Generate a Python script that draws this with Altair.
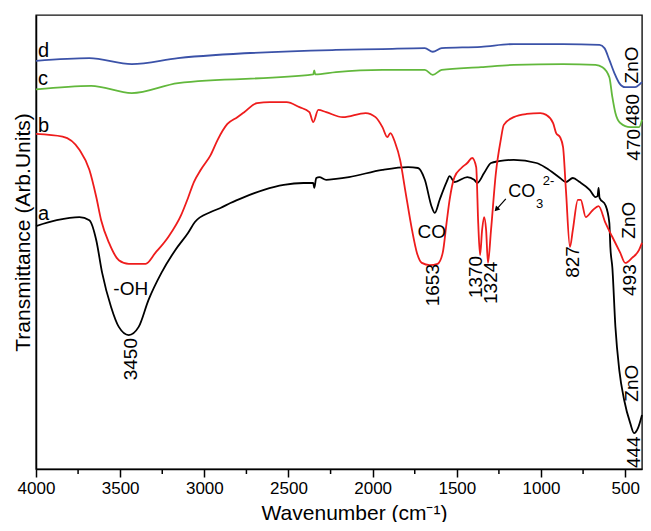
import altair as alt
import pandas as pd

# ---- spectra (wavenumber in cm-1, transmittance in arbitrary units) ----
a_wn = [4000, 3877, 3742, 3683, 3642, 3607, 3554, 3508, 3449, 3390, 3332, 3255, 3173, 3097, 3056,
        2962, 2904, 2845, 2763, 2646, 2528, 2411, 2353, 2347, 2335, 2317, 2276, 2218, 2141, 1942,
        1790, 1731, 1690, 1649, 1631, 1602, 1561, 1543, 1514, 1438, 1397, 1379, 1338, 1297, 1250,
        1162, 1027, 969, 887, 852, 811, 770, 711, 676, 664, 658, 652, 617, 594, 588, 576, 558,
        535, 506, 470, 447, 424, 400]
a_T = [53.5, 54.8, 55.5, 54.8, 50.4, 43.2, 35.7, 31.3, 29.5, 31.3, 37.2, 43.2, 48.2, 52.0, 54.4,
       56.6, 57.5, 58.6, 59.9, 61.5, 62.6, 63.0, 63.0, 61.9, 64.1, 64.3, 63.7, 63.9, 64.3, 65.9,
       66.5, 66.3, 63.7, 57.7, 56.4, 59.3, 63.2, 64.5, 63.2, 64.3, 63.7, 63.0, 65.2, 67.4, 67.8,
       68.1, 67.4, 66.3, 64.1, 63.2, 64.1, 63.2, 61.5, 59.9, 60.1, 61.9, 59.7, 58.1, 54.2, 48.9,
       44.3, 31.3, 21.8, 15.2, 10.1, 7.9, 9.0, 11.9]

b_wn = [4000, 3842, 3742, 3683, 3642, 3613, 3566, 3508, 3449, 3349, 3291, 3214, 3138, 3097, 3062,
        3021, 2962, 2921, 2863, 2804, 2763, 2687, 2610, 2511, 2435, 2376, 2353, 2323, 2276, 2177,
        2042, 1983, 1942, 1913, 1895, 1866, 1837, 1807, 1766, 1737, 1708, 1661, 1614, 1584, 1561,
        1543, 1514, 1473, 1438, 1409, 1385, 1373, 1362, 1350, 1338, 1326, 1315, 1297, 1268, 1239,
        1221, 1162, 1086, 1004, 969, 928, 910, 887, 869, 852, 828, 811, 781, 764, 734, 693, 658,
        617, 576, 529, 500, 459, 418, 400]
b_T = [73.8, 73.2, 70.3, 65.9, 59.9, 54.8, 49.8, 46.0, 45.2, 45.2, 47.6, 51.1, 55.9, 59.7, 63.2,
       65.9, 69.2, 72.5, 76.0, 77.5, 78.6, 80.6, 80.8, 80.8, 79.7, 78.6, 76.4, 79.1, 78.6, 77.5,
       78.4, 77.5, 75.3, 73.1, 74.0, 71.8, 68.1, 61.5, 52.6, 47.6, 45.4, 44.9, 45.2, 47.6, 54.2,
       59.3, 64.3, 66.3, 67.4, 68.5, 66.5, 54.2, 47.1, 52.6, 55.5, 52.6, 45.4, 52.6, 65.2, 72.5,
       75.8, 77.5, 78.2, 78.4, 78.0, 76.2, 74.0, 73.1, 70.9, 61.5, 48.9, 52.6, 59.3, 59.3, 55.5,
       57.0, 57.9, 54.2, 51.1, 47.6, 45.4, 46.5, 48.2, 49.8]

c_wn = [4000, 3672, 3431, 3156, 2353, 2347, 2341, 2218, 1942, 1690, 1643, 1590, 1356, 1162, 869,
        676, 635, 594, 576, 558, 529, 470, 418, 400]
c_T = [83.6, 84.4, 82.8, 85.0, 86.9, 87.8, 86.9, 87.4, 87.9, 87.9, 86.8, 87.9, 88.5, 89.0, 89.2,
       89.0, 88.5, 86.3, 81.9, 78.4, 76.2, 75.3, 75.3, 76.9]

d_wn = [4000, 3683, 3431, 3156, 2218, 1942, 1690, 1643, 1590, 1356, 1162, 869, 652, 623, 594,
        564, 535, 500, 441, 412, 400]
d_T = [89.9, 90.5, 89.2, 90.5, 92.3, 92.5, 92.7, 91.9, 92.7, 93.0, 93.6, 93.6, 93.4, 92.7, 90.1,
       87.2, 85.0, 84.1, 84.1, 84.8, 85.2]

series_names = ["a", "b", "c", "d"]
series_colors = ["#000000", "#ee1c1c", "#62b83c", "#3b52a8"]

# ---- axis ticks ----
major_ticks = [4000, 3500, 3000, 2500, 2000, 1500, 1000, 500]
minor_ticks = [3750, 3250, 2750, 2250, 1750, 1250, 750]

# ---- annotations ----
rot_labels = ["3450", "1653", "1370", "1324", "827", "493", "444", "ZnO", "ZnO", "470", "480", "ZnO"]
rot_wn = [3437, 1643, 1385, 1297, 811, 470, 447, 459, 476, 447, 453, 459]
rot_T = [24.2, 40.5, 42.3, 41.0, 45.6, 41.6, 3.7, 18.9, 54.8, 71.4, 79.1, 89.0]

mid_labels = ["-OH", "CO"]
mid_wn = [3437, 1649]
mid_T = [39.6, 52.2]

letter_labels = ["d", "c", "b", "a"]
letter_wn = [3988, 3988, 3988, 3988]
letter_T = [90.7, 84.6, 74.2, 54.8]

carb_main = ["CO"]
carb_wn = [1195]
carb_T = [61.0]
carb_sub = ["3"]
carb_sub_wn = [1030]
carb_sub_T = [58.4]
carb_sup = ["2-"]
carb_sup_wn = [990]
carb_sup_T = [63.4]

arrow_wn = [1209]
arrow_T = [59.5]
arrow_wn2 = [1262]
arrow_T2 = [57.3]
head_wn = [1265]
head_T = [57.2]

FONT = "Liberation Sans"

frames = []
for name, wn, T in zip(series_names, [a_wn, b_wn, c_wn, d_wn], [a_T, b_T, c_T, d_T]):
    frames.append(pd.DataFrame({"wn": wn, "T": T, "series": name}))
curves = pd.concat(frames, ignore_index=True)

xscale = alt.Scale(domain=[400, 4000], reverse=True, nice=False, zero=False)
yscale = alt.Scale(domain=[0, 100], nice=False, zero=False)

x_axis = alt.Axis(values=major_ticks, format="d", title="Wavenumber (cm⁻¹)",
                  tickSize=8, labelPadding=3, labelFlush=False, grid=False,
                  titlePadding=6, titleX=318)
y_axis = alt.Axis(ticks=False, labels=False, grid=False,
                  title="Transmittance (Arb.Units)", titlePadding=3, titleY=217)


def X(field="wn"):
    return alt.X(f"{field}:Q", scale=xscale, axis=x_axis)


def Y(field="T"):
    return alt.Y(f"{field}:Q", scale=yscale, axis=y_axis)


lines = alt.Chart(curves).mark_line(strokeWidth=1.8, interpolate="monotone").encode(
    x=X(),
    y=Y(),
    color=alt.Color("series:N", scale=alt.Scale(domain=series_names, range=series_colors), legend=None),
    detail="series:N",
)

minor = alt.Chart(pd.DataFrame({"wn": minor_ticks})).mark_rule(color="black", strokeWidth=1.5).encode(
    x=X(),
    y=alt.value(454),
    y2=alt.value(459),
)


def text_layer(labels, wn, T, **kw):
    df = pd.DataFrame({"label": labels, "wn": wn, "T": T})
    return alt.Chart(df).mark_text(font=FONT, color="black", **kw).encode(
        x=X(),
        y=Y(),
        text="label:N",
    )


rot = text_layer(rot_labels, rot_wn, rot_T, angle=270, fontSize=19, align="center", baseline="middle")
mid = text_layer(mid_labels, mid_wn, mid_T, fontSize=19, align="center", baseline="middle")
letters = text_layer(letter_labels, letter_wn, letter_T, fontSize=20, align="left", baseline="alphabetic")
carb = text_layer(carb_main, carb_wn, carb_T, fontSize=18, align="left", baseline="middle")
carb3 = text_layer(carb_sub, carb_sub_wn, carb_sub_T, fontSize=13, align="left", baseline="middle")
carb2 = text_layer(carb_sup, carb_sup_wn, carb_sup_T, fontSize=13, align="left", baseline="middle")

arrow = alt.Chart(pd.DataFrame({"wn": arrow_wn, "T": arrow_T, "wn2": arrow_wn2, "T2": arrow_T2})).mark_rule(
    color="black", strokeWidth=1.2).encode(
    x=X(), x2="wn2:Q",
    y=Y(), y2="T2:Q",
)
head = alt.Chart(pd.DataFrame({"wn": head_wn, "T": head_T})).mark_point(
    shape="triangle-up", filled=True, size=35, angle=223, color="black", opacity=1).encode(
    x=X(),
    y=Y(),
)

chart = alt.layer(lines, minor, rot, mid, letters, carb, carb3, carb2, arrow, head).properties(
    width=606, height=454,
    padding={"left": 28, "top": 7, "right": 1, "bottom": 53},
    autosize=alt.AutoSizeParams(type="none"),
).configure(font=FONT).configure_view(
    stroke="#111111", strokeWidth=1.4
).configure_axis(
    domainColor="black", domainWidth=1.5, tickColor="black", tickWidth=1.5,
    labelColor="black", titleColor="black", labelFont=FONT, titleFont=FONT,
    labelFontSize=17, titleFontSize=21, titleFontWeight="normal",
)

chart.save("out.html", embed_options={"renderer": "svg", "actions": False})
